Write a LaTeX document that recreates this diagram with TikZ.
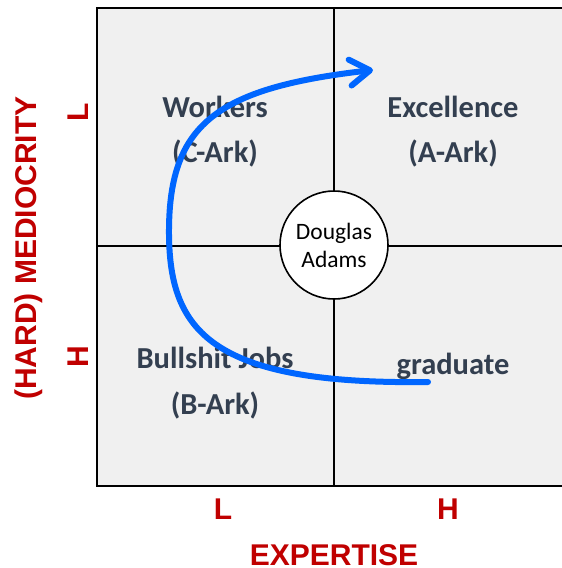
\documentclass[tikz,border=0pt]{standalone}
\usepackage{fontspec}
\setmainfont{Carlito}
\newfontfamily\arialf{Liberation Sans}
\usetikzlibrary{arrows.meta}
\definecolor{quadfill}{HTML}{F0F0F0}
\definecolor{quadtext}{HTML}{333F50}
\definecolor{axisred}{HTML}{C00000}
\definecolor{arrowblue}{HTML}{0066FF}
\tikzset{
  quadlabel/.style={font=\fontsize{30.5}{34}\selectfont\bfseries, text=quadtext, align=center, inner sep=0pt},
  axislabel/.style={font=\fontsize{30}{34}\selectfont\arialf\bfseries, text=axisred, inner sep=0pt},
  gridline/.style={draw=black, line width=1.6pt},
  pathline/.style={draw=arrowblue, line width=6pt, line cap=round, -{Straight Barb[length=20pt,width=26pt,round]}},
}
\begin{document}
\begin{tikzpicture}[x=1pt,y=-1pt]
\useasboundingbox (0,0) rectangle (562,568);
\fill[white] (0,0) rectangle (562,568);
\begin{scope}
\clip (0,0) rectangle (562,568);
\fill[quadfill] (97,8) rectangle (571,486);
\draw[gridline] (334,8) -- (334,486);
\draw[gridline] (97,246) -- (571,246);
\draw[draw=black, line width=2.4pt] (97,8) rectangle (571,486);
\end{scope}
% quadrant labels
\node[quadlabel] (workers) at (215,107) {Workers};
\node[quadlabel] (cark) at (215,153) {(C-Ark)};
\node[quadlabel] (excel) at (453,107) {Excellence};
\node[quadlabel] (aark) at (453,153) {(A-Ark)};
\node[quadlabel] (bulls) at (215,358) {Bullshit Jobs};
\node[quadlabel] (bark) at (215,405) {(B-Ark)};
\node[quadlabel] (grad) at (453,366) {graduate};
% center circle
\node[circle, draw=black, line width=1.6pt, fill=white, minimum size=108pt, inner sep=0pt, align=center,
      font=\fontsize{23.5}{28}\selectfont] (da) at (334,245) {Douglas\\Adams};
% axes
\node[axislabel, rotate=90] (ylow) at (78,112) {L};
\node[axislabel, rotate=90] (yhigh) at (78,357) {H};
\node[axislabel, rotate=90] (yaxis) at (29,248) {(HARD) MEDIOCRITY};
\node[axislabel] (xlow) at (223,509) {L};
\node[axislabel] (xhigh) at (448,509) {H};
\node[axislabel] (xaxis) at (334,555) {EXPERTISE};
% arrow
\coordinate (pstart) at (428,382);
\coordinate (pmid) at (169,235);
\coordinate (pend) at (373,70);
\draw[pathline] (pstart) .. controls (210,385) and (170,330) .. (pmid)
  .. controls (168,125) and (215,88) .. (pend);
\end{tikzpicture}
\end{document}
